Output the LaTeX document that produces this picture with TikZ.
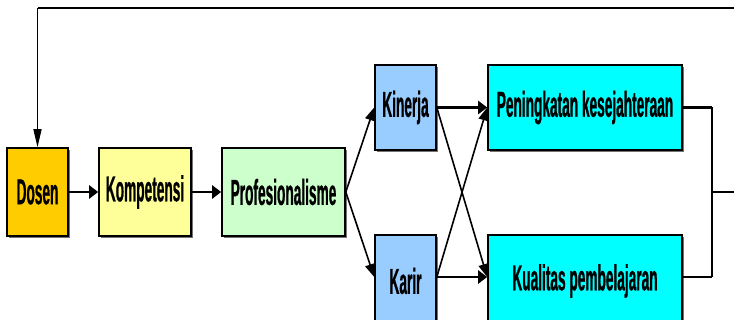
\documentclass[tikz,border=0pt]{standalone}
\usepackage{fontspec}
\usepackage{tikz}
\usetikzlibrary{arrows.meta,shadows}
\newfontfamily\boxfont{Liberation Sans}[FakeStretch=0.38, FakeBold=0.6]
\definecolor{dosencol}{HTML}{FFCC00}
\definecolor{kompcol}{HTML}{FFFF99}
\definecolor{profcol}{HTML}{CCFFCC}
\definecolor{kincol}{HTML}{99CCFF}
\definecolor{hasilcol}{HTML}{00FFFF}
\tikzset{
	box/.style={draw=black, line width=1.6pt, inner sep=0pt, minimum height=85pt,
		font=\boxfont\bfseries\fontsize{36}{40}\selectfont,
		drop shadow={shadow xshift=1.5pt, shadow yshift=-2.5pt, fill=black!55, opacity=1}},
	hline/.style={line width=2.6pt},
	dline/.style={line width=1.6pt},
	htip/.style={-{Triangle[length=9pt,width=13pt]}},
	vtip/.style={-{Triangle[length=18pt,width=8pt]}},
	ktip/.style={-{Triangle[length=13pt,width=10pt]}}
}
\begin{document}
\begin{tikzpicture}[x=1pt, y=-1pt]
			%%%%% START %%%%%
			\clip (0, 0) rectangle (734, 320);
			\useasboundingbox (0, 0) rectangle (734, 320);
			
			\node[box, fill=dosencol, minimum width=61pt, minimum height=88pt] (dosen) at (37.5, 192) {Dosen};
			\node[box, fill=kompcol, minimum width=92pt, minimum height=88pt] (komp) at (145, 192) {Kompetensi};
			\node[box, fill=profcol, minimum width=123pt, minimum height=88pt] (prof) at (283.5, 192) {Profesionalisme};
			
			\node[box, fill=kincol, minimum width=61pt] (kinerja) at (405.5, 107.5) {Kinerja};
			\node[box, fill=kincol, minimum width=61pt, minimum height=92pt] (karir) at (405.5, 281) {Karir};
			\node[box, fill=hasilcol, minimum width=194pt] (pening) at (585, 107.5) {Peningkatan kesejahteraan};
			\node[box, fill=hasilcol, minimum width=194pt, minimum height=92pt] (kualitas) at (585, 281) {Kualitas pembelajaran};
			
			\draw[hline, htip] (dosen) -- (komp);
			\draw[hline, htip] (komp) -- (prof);
			
			\draw[dline, ktip] (prof.east) -- (kinerja.west);
			\draw[dline, ktip] (prof.east) -- (karir.west |- 0, 277);
			
			\draw[hline, htip] (kinerja.east) -- (pening.west);
			\draw[hline, htip] (karir.east |- 0, 277) -- (kualitas.west |- 0, 277);
			\draw[dline, ktip] (kinerja.east) -- (kualitas.west |- 0, 277);
			\draw[dline, ktip] (karir.east |- 0, 277) -- (pening.west);
			
			% feedback
			\coordinate (join) at (712, 192);
			\coordinate (out) at (760, 192);
			\coordinate (back) at (760, 8);
			\draw[hline] (pening.east) -- (join |- pening.east);
			\draw[hline] (kualitas.east |- 0, 277) -- (join |- 0, 277);
			\draw[dline] (join |- pening.east) -- (join |- 0, 277);
			\draw[hline] (join) -- (out) -- (back) -- (back -| dosen.north);
			\draw[dline, vtip] (back -| dosen.north) -- (dosen.north);
			
			%%%%% END %%%%%
\end{tikzpicture}
\end{document}
